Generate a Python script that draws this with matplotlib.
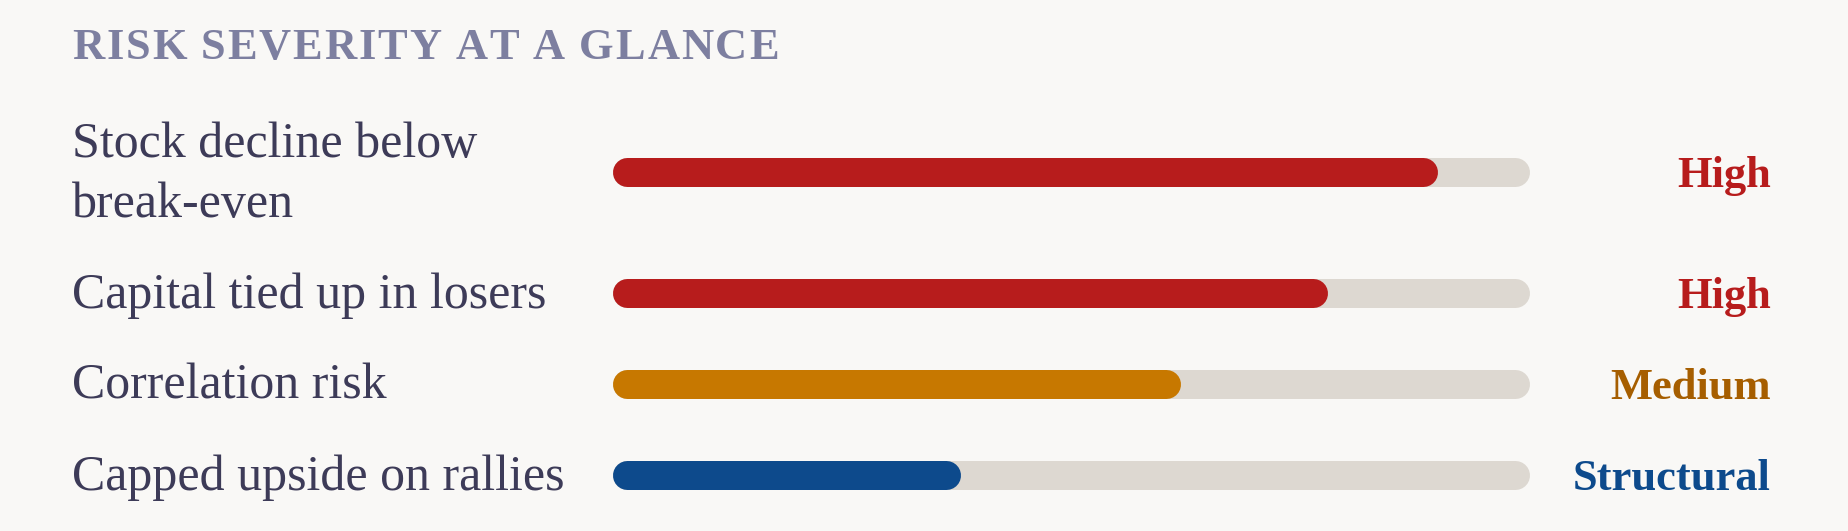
import matplotlib
matplotlib.use("Agg")
import matplotlib.pyplot as plt

# data
risks = ["Stock decline below\nbreak-even", "Capital tied up in losers",
         "Correlation risk", "Capped upside on rallies"]
scores = [90, 78, 62, 38]
levels = ["High", "High", "Medium", "Structural"]
bar_colors = ["#b71c1c", "#b71c1c", "#c77800", "#0d4a8c"]
level_colors = ["#b71c1c", "#b71c1c", "#a65e00", "#0d4a8c"]
title = "RISK SEVERITY AT A GLANCE"

W, H = 1848, 531
bg = "#f9f8f6"
track_color = "#ddd8d1"
label_color = "#3d3b58"
title_color = "#7d7fa0"
serif = ["Liberation Serif", "DejaVu Serif"]

fig = plt.figure(figsize=(W / 100, H / 100), dpi=100, facecolor=bg)
ax = fig.add_axes([0, 0, 1, 1])
ax.set_xlim(0, W)
ax.set_ylim(H, 0)
ax.set_axis_off()
ax.set_facecolor(bg)

# layout in pixels
track_x0, track_x1 = 612, 1529
bar_h = 29
r = bar_h / 2
lw_pt = bar_h * 72 / 100
label_x = 72
level_x = 1771
line_h = 60
row_base = 91
top = 96.5

label_size = 36
label_cap = 0.662 * label_size * 100 / 72
level_size = 32
level_cap = 0.662 * level_size * 100 / 72

y = top
for name, score, lev, bc, lc in zip(risks, scores, levels, bar_colors, level_colors):
    lines = name.split("\n")
    row_h = row_base + line_h * (len(lines) - 1)
    c = y + row_h / 2
    y += row_h

    # track and fill (round caps)
    ax.plot([track_x0 + r, track_x1 - r], [c, c], color=track_color, lw=lw_pt,
            solid_capstyle="round", zorder=1)
    fill_end = track_x0 + (track_x1 - track_x0) * score / 100
    ax.plot([track_x0 + r, fill_end - r], [c, c], color=bc, lw=lw_pt,
            solid_capstyle="round", zorder=2)

    first_base = c - (len(lines) - 1) * line_h / 2 + label_cap / 2 - 2
    for i, ln in enumerate(lines):
        ax.text(label_x, first_base + i * line_h, ln, fontsize=label_size,
                family=serif, color=label_color, va="baseline", ha="left")

    ax.text(level_x, c + level_cap / 2, lev, fontsize=level_size, family=serif,
            fontweight="bold", color=lc, va="baseline", ha="right")

# letter-spaced title
renderer = fig.canvas.get_renderer()
title_size = 32
title_w = 707
widths = []
for ch in title:
    t = ax.text(0, 0, ch if ch != " " else "I", fontsize=title_size, family=serif,
                fontweight="bold")
    w = t.get_window_extent(renderer).width
    if ch == " ":
        w *= 0.6
    widths.append(w)
    t.remove()
spacing = (title_w - sum(widths)) / (len(title) - 1)
x = label_x
for ch, w in zip(title, widths):
    if ch != " ":
        ax.text(x, 59, ch, fontsize=title_size, family=serif, fontweight="bold",
                color=title_color, va="baseline", ha="left")
    x += w + spacing

fig.savefig("out.png", dpi=100, facecolor=bg)
